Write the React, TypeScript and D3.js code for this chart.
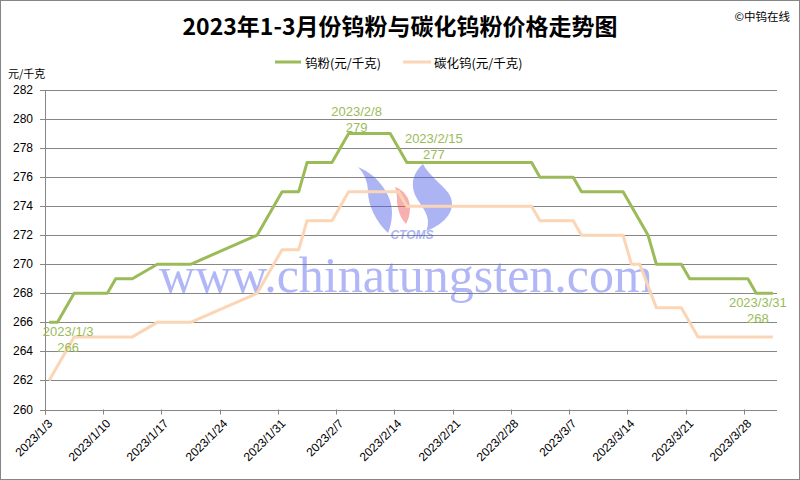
import React from "react";
import * as d3 from "d3";

const powderDates = ["2023-01-03","2023-01-04","2023-01-06","2023-01-10","2023-01-11","2023-01-13","2023-01-16","2023-01-20","2023-01-28","2023-01-31","2023-02-02","2023-02-03","2023-02-06","2023-02-08","2023-02-13","2023-02-15","2023-03-02","2023-03-03","2023-03-07","2023-03-08","2023-03-13","2023-03-14","2023-03-16","2023-03-17","2023-03-20","2023-03-21","2023-03-28","2023-03-29","2023-03-31"];
const powderValues = [266,266,268,268,269,269,270,270,272,275,275,277,277,279,279,277,277,276,276,275,275,274,272,270,270,269,269,268,268];

const carbideDates = ["2023-01-03","2023-01-04","2023-01-06","2023-01-13","2023-01-16","2023-01-20","2023-01-28","2023-01-31","2023-02-02","2023-02-03","2023-02-06","2023-02-08","2023-02-14","2023-02-15","2023-03-02","2023-03-03","2023-03-07","2023-03-08","2023-03-13","2023-03-14","2023-03-15","2023-03-17","2023-03-20","2023-03-22","2023-03-31"];
const carbideValues = [262,263,265,265,266,266,268,271,271,273,273,275,275,274,274,273,273,272,272,270,270,267,267,265,265];

const yTicks = [260,262,264,266,268,270,272,274,276,278,280,282];
const xTickLabels = ["2023/1/3","2023/1/10","2023/1/17","2023/1/24","2023/1/31","2023/2/7","2023/2/14","2023/2/21","2023/2/28","2023/3/7","2023/3/14","2023/3/21","2023/3/28"];

const annotations = [
  { date: "2023-01-03", value: 266, label: "2023/1/3", dx: 19, dy: 9 },
  { date: "2023-02-08", value: 279, label: "2023/2/8", dx: 8, dy: -22 },
  { date: "2023-02-15", value: 277, label: "2023/2/15", dx: 27, dy: -24 },
  { date: "2023-03-31", value: 268, label: "2023/3/31", dx: -15, dy: 9 },
];

const seriesNames = ["钨粉(元/千克)", "碳化钨(元/千克)"];
const title = "2023年1-3月份钨粉与碳化钨粉价格走势图";

const GREEN = "#9BBB59";
const PEACH = "#FBD5B5";
const GRID = "#868686";
const FONT = "'Liberation Sans', Arial, sans-serif";
const CJK = "'Noto Sans CJK SC', sans-serif";

const parse = d3.timeParse("%Y-%m-%d");
const parseSlash = d3.timeParse("%Y/%m/%d");
const DAY = 86400000;

export default function App() {
  const left = 45, right = 777, top = 90, bottom = 409.5;
  const x = d3.scaleTime().domain([parse("2023-01-03")!, parse("2023-04-01")!]).range([left, right]);
  const y = d3.scaleLinear().domain([260, 282]).range([bottom, top]);
  const px = (s: string) => x(new Date(parse(s)!.getTime() + DAY / 2));

  const line = d3.line<[number, number]>().x(d => d[0]).y(d => d[1]);
  const powderPts: [number, number][] = powderDates.map((d, i) => [px(d), y(powderValues[i])]);
  const carbidePts: [number, number][] = carbideDates.map((d, i) => [px(d), y(carbideValues[i])]);

  return (
    <svg width={800} height={480} style={{ position: "absolute", left: 0, top: 0, background: "#fff" }}>
      <rect x={0.5} y={0.5} width={799} height={479} fill="#fff" stroke={GRID} strokeWidth={1} />
      <text x={400} y={25} textAnchor="middle" dominantBaseline="central" fontFamily={CJK} fontWeight="bold" fontSize={23} fill="#000">{title}</text>
      <text x={790} y={16} textAnchor="end" dominantBaseline="central" fontFamily={CJK} fontSize={11.5} fill="#000">©中钨在线</text>

      {/* legend */}
      <line x1={275} x2={301} y1={62} y2={62} stroke={GREEN} strokeWidth={3} />
      <text x={305} y={62} dominantBaseline="central" fontFamily={CJK} fontSize={12.5} fill="#000">{seriesNames[0]}</text>
      <line x1={403} x2={431} y1={62} y2={62} stroke={PEACH} strokeWidth={3} />
      <text x={434} y={62} dominantBaseline="central" fontFamily={CJK} fontSize={12.5} fill="#000">{seriesNames[1]}</text>

      <text x={8} y={73} dominantBaseline="central" fontFamily={CJK} fontSize={11} fill="#000">元/千克</text>

      {/* grid */}
      {yTicks.map(t => (
        <g key={t}>
          <line x1={left - 5} x2={right} y1={Math.round(y(t)) + 0.5} y2={Math.round(y(t)) + 0.5} stroke={GRID} strokeWidth={1} />
          <text x={33} y={y(t)} textAnchor="end" dominantBaseline="central" fontFamily={FONT} fontSize={12} fill="#000">{t}</text>
        </g>
      ))}
      <line x1={left + 0.5} x2={left + 0.5} y1={top} y2={bottom + 5} stroke={GRID} strokeWidth={1} />
      {xTickLabels.map(l => {
        const tx = Math.round(x(parseSlash(l)!)) + 0.5;
        return (
          <g key={l}>
            <line x1={tx} x2={tx} y1={bottom} y2={bottom + 5} stroke={GRID} strokeWidth={1} />
            <text transform={`translate(${tx + 5},${bottom + 12}) rotate(-45)`} textAnchor="end" dominantBaseline="central" fontFamily={FONT} fontSize={12} fill="#000">{l}</text>
          </g>
        );
      })}

      {/* watermark */}
      <g opacity={0.45}>
        <path d="M358,167 C378,175 392,195 392,212 C392,222 390,228 388,233 C376,222 368,205 368,192 C368,182 364,173 358,167 Z" fill="#4a5ae8" />
        <path d="M395,187 C404,190 410,198 410,208 C410,215 408,220 406,224 C400,218 397,208 397,200 C397,194 396,190 395,187 Z" fill="#f05050" />
        <path d="M423,164 C414,172 410,182 415,195 C420,205 428,212 428,222 C428,226 427,229 426,231 C440,226 452,216 452,204 C452,194 444,188 436,180 C430,174 426,170 423,164 Z" fill="#4a5ae8" />
        <text x={412} y={235} textAnchor="middle" dominantBaseline="central" fontFamily={FONT} fontStyle="italic" fontWeight="bold" fontSize={12} fill="#4a5ae8">CTOMS</text>
      </g>
      <text x={406} y={292} textAnchor="middle" fontFamily="'Liberation Serif', 'DejaVu Serif', serif" fontSize={50} fill="#6470ee" opacity={0.5}>www.chinatungsten.com</text>

      {/* series */}
      <path d={line(carbidePts)!} fill="none" stroke={PEACH} strokeWidth={3} strokeLinejoin="round" />
      <path d={line(powderPts)!} fill="none" stroke={GREEN} strokeWidth={3} strokeLinejoin="round" />

      {annotations.map(a => {
        const ax = px(a.date) + a.dx;
        const ay = y(a.value) + a.dy;
        return (
          <g key={a.label}>
            <text x={ax} y={ay} textAnchor="middle" dominantBaseline="central" fontFamily={FONT} fontSize={13} fill={GREEN}>{a.label}</text>
            <text x={ax} y={ay + 16} textAnchor="middle" dominantBaseline="central" fontFamily={FONT} fontSize={13} fill={GREEN}>{a.value}</text>
          </g>
        );
      })}
    </svg>
  );
}
